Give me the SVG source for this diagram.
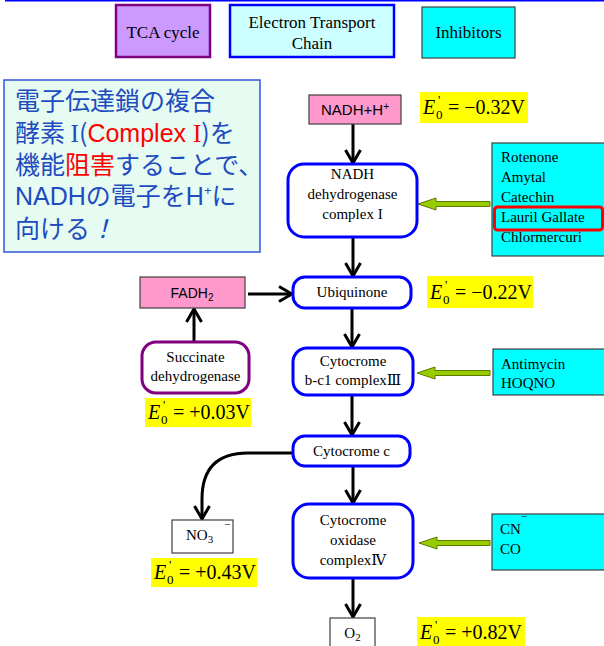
<svg xmlns="http://www.w3.org/2000/svg" width="604" height="646" viewBox="0 0 604 646">
<style>
.t{font-family:"Liberation Serif","DejaVu Serif","Times New Roman",serif;fill:#000}
.s{font-family:"Liberation Sans",Arial,sans-serif;fill:#000}
.ent{fill:#fff;stroke:#0000ff;stroke-width:3}
.pur{fill:#fff;stroke:#800080;stroke-width:3}
.inh{fill:#00ffff;stroke:#404040;stroke-width:1.2}
.pink{fill:#ff99cc;stroke:#404040;stroke-width:1.2}
.wbox{fill:#fff;stroke:#404040;stroke-width:1.2}
.yel{fill:#ffff00}
.conn{fill:none;stroke:#000;stroke-width:3;marker-end:url(#ah)}
.garrow{fill:#99cc00;stroke:#5a7a00;stroke-width:1}
.jp{font-family:"Noto Sans CJK JP","Noto Sans",sans-serif;font-size:25px;fill:#1e4bc0}
.lat{font-family:"Liberation Sans",Arial,sans-serif}
.rom{font-family:"Liberation Serif","Times New Roman",serif}
.red{fill:#ff0000}
</style>
<defs>
<marker id="ah" markerUnits="userSpaceOnUse" markerWidth="18" markerHeight="18" viewBox="0 0 18 18" refX="16" refY="9" orient="auto">
<path d="M3,1.5 L16,9 L3,16.5" fill="none" stroke="#000" stroke-width="3"/>
</marker>
</defs>
<rect width="604" height="646" fill="#fff"/>
<line x1="5" y1="0.8" x2="604" y2="0.8" stroke="#0000ff" stroke-width="1.6"/>

<g id="legend-tca">
<rect x="116" y="5" width="94" height="52" fill="#cc99ff" stroke="#800080" stroke-width="2.5"/>
<text class="t" x="163" y="38" font-size="17" text-anchor="middle">TCA cycle</text>
</g>
<g id="legend-etc">
<rect x="230" y="5" width="164" height="52" fill="#ccffff" stroke="#0000ff" stroke-width="2.5"/>
<text class="t" x="312" y="28" font-size="17" text-anchor="middle">Electron Transport</text>
<text class="t" x="312" y="49" font-size="17" text-anchor="middle">Chain</text>
</g>
<g id="legend-inhibitors">
<rect x="422" y="7" width="93" height="51" fill="#00ffff" stroke="#404040" stroke-width="1.2"/>
<text class="t" x="468.5" y="38" font-size="17" text-anchor="middle">Inhibitors</text>
</g>

<g id="note">
<rect x="4" y="80" width="256" height="172" fill="#e6fbf1" stroke="#3355dd" stroke-width="1.5"/>
<text class="jp" x="15" y="110">電子伝達鎖の複合</text>
<text class="jp" x="15" y="142">酵素 <tspan class="rom">I</tspan>(<tspan class="red lat">Complex </tspan><tspan class="red rom">I</tspan>)を</text>
<text class="jp" x="15" y="174">機能<tspan class="red">阻害</tspan>することで、</text>
<text class="jp" x="15" y="205"><tspan class="lat">NADH</tspan>の電子を<tspan class="lat">H</tspan><tspan class="lat" font-size="13" dy="-10">+</tspan><tspan dy="10">に</tspan></text>
<text class="jp" x="15" y="238">向ける<tspan font-style="italic">！</tspan></text>
</g>

<g id="connectors">
<path class="conn" d="M353,124 V163"/>
<path class="conn" d="M353,237 V276"/>
<path class="conn" d="M352,308 V347"/>
<path class="conn" d="M352,395 V435"/>
<path class="conn" d="M353,466 V503"/>
<path class="conn" d="M353,578 V617"/>
<path class="conn" d="M248,294 H292"/>
<path class="conn" d="M194,342 V309"/>
<path class="conn" d="M293,453 H248 Q202,453 202,499 V519"/>
<polygon class="garrow" points="418,204 436,198 436,201.5 490,201.5 490,206.5 436,206.5 436,210"/>
<polygon class="garrow" points="417,373 435,367 435,370.5 490,370.5 490,375.5 435,375.5 435,379"/>
<polygon class="garrow" points="419,543 437,537 437,540.5 490,540.5 490,545.5 437,545.5 437,549"/>
</g>

<g id="nadh">
<rect class="pink" x="309" y="95" width="92" height="29"/>
<text class="s" x="355" y="115" font-size="15" text-anchor="middle">NADH+H<tspan font-size="10" dy="-5">+</tspan></text>
</g>
<g id="e0-nadh">
<rect class="yel" x="420" y="92" width="108" height="31"/>
<text class="t" x="423" y="114" font-size="20" font-style="italic">E</text>
<text class="t" x="436" y="119" font-size="13">0</text>
<text class="t" x="438" y="104" font-size="13">'</text>
<text class="t" x="448" y="114" font-size="20">= −0.32V</text>
</g>
<g id="complex1">
<rect class="ent" x="288" y="164" width="129" height="73" rx="16"/>
<text class="t" x="352.5" y="179" font-size="15" text-anchor="middle">NADH</text>
<text class="t" x="352.5" y="199" font-size="15" text-anchor="middle">dehydrogenase</text>
<text class="t" x="352.5" y="219" font-size="15" text-anchor="middle">complex I</text>
</g>
<g id="inhib1">
<rect class="inh" x="492" y="143" width="113" height="113"/>
<text class="t" x="501" y="162" font-size="15">Rotenone</text>
<text class="t" x="501" y="182" font-size="15">Amytal</text>
<text class="t" x="501" y="202" font-size="15">Catechin</text>
<text class="t" x="501" y="222" font-size="15">Lauril Gallate</text>
<text class="t" x="501" y="242" font-size="15">Chlormercuri</text>
<rect x="494.5" y="207" width="108" height="23" rx="3" fill="none" stroke="#ff0000" stroke-width="3"/>
</g>
<g id="fadh2">
<rect class="pink" x="140" y="277" width="105" height="31"/>
<text class="s" x="192" y="298" font-size="14" text-anchor="middle">FADH<tspan font-size="10" dy="3">2</tspan></text>
</g>
<g id="ubiquinone">
<rect class="ent" x="293" y="277" width="118" height="31" rx="12"/>
<text class="t" x="352" y="297" font-size="15" text-anchor="middle">Ubiquinone</text>
</g>
<g id="e0-ubq">
<rect class="yel" x="427" y="276" width="106" height="32"/>
<text class="t" x="430" y="299" font-size="20" font-style="italic">E</text>
<text class="t" x="443" y="304" font-size="13">0</text>
<text class="t" x="445" y="289" font-size="13">'</text>
<text class="t" x="455" y="299" font-size="20">= −0.22V</text>
</g>
<g id="succinate">
<rect class="pur" x="142" y="342" width="107" height="51" rx="14"/>
<text class="t" x="195.5" y="362" font-size="15" text-anchor="middle">Succinate</text>
<text class="t" x="195.5" y="381" font-size="15" text-anchor="middle">dehydrogenase</text>
</g>
<g id="e0-succ">
<rect class="yel" x="145" y="398" width="106" height="29"/>
<text class="t" x="148" y="419" font-size="20" font-style="italic">E</text>
<text class="t" x="161" y="424" font-size="13">0</text>
<text class="t" x="163" y="409" font-size="13">'</text>
<text class="t" x="173" y="419" font-size="20">= +0.03V</text>
</g>
<g id="complex3">
<rect class="ent" x="293" y="348" width="120" height="47" rx="14"/>
<text class="t" x="353" y="366" font-size="15" text-anchor="middle">Cytocrome</text>
<text class="t" x="353" y="385" font-size="15" text-anchor="middle">b-c1 complexⅢ</text>
</g>
<g id="inhib3">
<rect class="inh" x="493" y="349" width="112" height="46"/>
<text class="t" x="501" y="369" font-size="15">Antimycin</text>
<text class="t" x="501" y="388" font-size="15">HOQNO</text>
</g>
<g id="cytc">
<rect class="ent" x="293" y="436" width="117" height="30" rx="12"/>
<text class="t" x="351.5" y="456" font-size="15" text-anchor="middle">Cytocrome c</text>
</g>
<g id="no3">
<rect class="wbox" x="172" y="520" width="61" height="33"/>
<text class="t" x="186" y="540" font-size="15">NO<tspan font-size="11" dy="3">3</tspan></text>
<text class="t" x="224" y="528" font-size="11">−</text>
</g>
<g id="e0-no3">
<rect class="yel" x="151" y="558" width="106" height="29"/>
<text class="t" x="154" y="579" font-size="20" font-style="italic">E</text>
<text class="t" x="167" y="584" font-size="13">0</text>
<text class="t" x="169" y="569" font-size="13">'</text>
<text class="t" x="179" y="579" font-size="20">= +0.43V</text>
</g>
<g id="complex4">
<rect class="ent" x="293" y="504" width="120" height="74" rx="16"/>
<text class="t" x="353" y="525" font-size="15" text-anchor="middle">Cytocrome</text>
<text class="t" x="353" y="545" font-size="15" text-anchor="middle">oxidase</text>
<text class="t" x="353" y="565" font-size="15" text-anchor="middle">complexⅣ</text>
</g>
<g id="inhib4">
<rect class="inh" x="492" y="514" width="113" height="56"/>
<text class="t" x="500" y="534" font-size="15">CN</text>
<text class="t" x="521" y="520" font-size="11">−</text>
<text class="t" x="500" y="554" font-size="15">CO</text>
</g>
<g id="o2">
<rect class="wbox" x="330" y="618" width="45" height="34"/>
<text class="t" x="352.5" y="638" font-size="15" text-anchor="middle">O<tspan font-size="11" dy="3">2</tspan></text>
</g>
<g id="e0-o2">
<rect class="yel" x="417" y="617" width="108" height="30"/>
<text class="t" x="420" y="639" font-size="20" font-style="italic">E</text>
<text class="t" x="433" y="644" font-size="13">0</text>
<text class="t" x="435" y="629" font-size="13">'</text>
<text class="t" x="445" y="639" font-size="20">= +0.82V</text>
</g>
</svg>
